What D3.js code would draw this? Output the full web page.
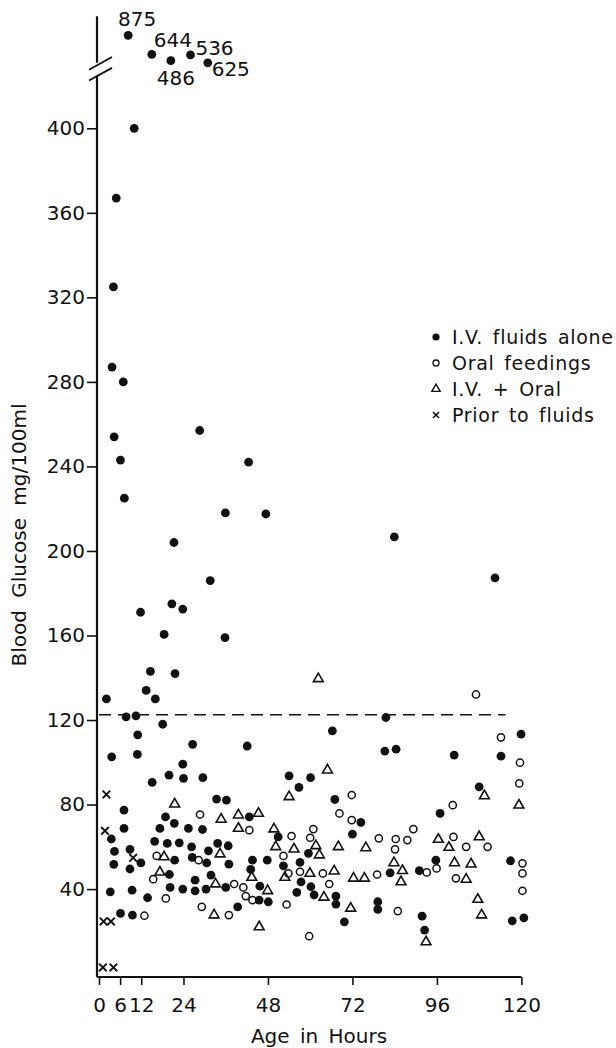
<!DOCTYPE html>
<html>
<head>
<meta charset="utf-8">
<script src="https://cdn.jsdelivr.net/npm/d3@7"></script>
<style>
  body { margin: 0; background: #fff; }
  svg text { font-family: "DejaVu Sans", sans-serif; fill: #111; }
</style>
</head>
<body>
<div id="chart"></div>
<script>
// each point is [age in hours, blood glucose mg/100ml]
var ivAlone = [
  [10, 400], [4.9, 367], [4.1, 325], [3.7, 287], [6.9, 280], [4.3, 254], [6.1, 243],
  [28.6, 257], [42.5, 242], [7.2, 225], [35.9, 218], [47.4, 217.5], [21.3, 204],
  [31.6, 186], [11.8, 171], [20.7, 175], [23.8, 172.5], [18.5, 160.5], [35.8, 159],
  [14.6, 143], [21.6, 142], [13.4, 134], [16, 130], [2.1, 130], [7.7, 121.5],
  [10.5, 122], [18.1, 118], [11, 113], [26.6, 108.5], [42.1, 107.7],
  [3.6, 102.6], [10.9, 103.7], [15.1, 90.5], [7.1, 77.4], [7.1, 68.7], [3.5, 63.7],
  [4.4, 57.8], [4.2, 51.7], [8.8, 58.8], [8.8, 49.5], [11.9, 52.4], [15.8, 62.6],
  [3.2, 38.7], [9.4, 39.5], [13.8, 35.9], [6.1, 28.5], [9.5, 27.7],
  [23.8, 99.1], [19.9, 93.9], [24, 92.4], [29.5, 92.7], [54, 93.6], [56.8, 88.1],
  [33.4, 82.6], [36.2, 82.1], [18.9, 74.2], [21.4, 71.1], [42.7, 74.2], [17.3, 68.7],
  [25.4, 68.7], [29.4, 68.2], [50.9, 64.7], [19.4, 61.6], [22.8, 61.9], [26.3, 60],
  [31.1, 58.1], [33.7, 61.6], [36.7, 60.5], [21.5, 53.7], [26.5, 55], [30.6, 52.4],
  [36.9, 51.8], [43.6, 53.7], [43.1, 49.3], [47.8, 53.7], [52.4, 51], [57.1, 52.6],
  [57.4, 43.4], [56.2, 38.4], [20, 46.9], [20.2, 40.8], [23.8, 40], [27.3, 44.2],
  [27.3, 39.2], [30.4, 40], [31.8, 46.6], [36, 40.8], [45.7, 41.4], [45.5, 34.8],
  [48.1, 34], [39.4, 31.6],
  [81.5, 121.2], [66.3, 114.9], [81.2, 105.3], [84.4, 106.2], [60.1, 92.7], [67, 82.4],
  [74.4, 71.6], [72, 66], [59.5, 56.9], [82.7, 47.7], [91, 48.7], [95.7, 53.7],
  [96.9, 75.8], [60.2, 41.1], [61.1, 37.2], [67.3, 36.7], [67.3, 32.9], [79.2, 34],
  [79.2, 30.4], [69.7, 24.5], [91.8, 27.2], [92.5, 20.6],
  [83.9, 206.7], [112.5, 187.3],
  [119.9, 113.3], [100.9, 103.4], [114.2, 102.9], [108, 88.4], [116.9, 53.4],
  [117.4, 25], [120.7, 26.4]
];

var oralFeedings = [
  [16.4, 55.7], [15.4, 44.7], [12.9, 27.4], [28.7, 75.3], [42.7, 67.9], [54.7, 65.1],
  [52.4, 55.7], [28.3, 53.7], [53.8, 47.4], [57.1, 48.2], [38.4, 42.4], [41, 40.8],
  [41.7, 36.7], [43.6, 34.8], [19, 35.6], [29.2, 31.6], [36.9, 27.7], [53.3, 32.7],
  [71.8, 84.5], [68.3, 75.8], [71.8, 72.6], [60.9, 68.4], [60, 64.3], [79.5, 64],
  [84.3, 63.7], [87.6, 63.2], [89.3, 68.4], [84.1, 58.8], [93.1, 47.9], [95.9, 49.8],
  [63.6, 47.4], [65.4, 42.4], [79, 46.9], [84.9, 29.6], [59.7, 17.7],
  [107.1, 132.1], [114.2, 111.8], [119.6, 99.8], [119.4, 90], [100.5, 79.7],
  [100.7, 64.7], [104.3, 60], [110.4, 60], [101.4, 45.1], [120.3, 52.2],
  [120.3, 47.4], [120.3, 39.2]
];

var ivPlusOral = [
  [17.3, 48], [18.5, 55.2], [21.5, 80.2], [34.7, 73], [39.6, 75], [45.3, 75.8],
  [39.6, 68.7], [49.7, 68.4], [34.4, 56.6], [50.2, 60], [55.4, 58.9], [43.4, 45.5],
  [52.8, 45.5], [33.1, 42.4], [47.9, 39.2], [32.7, 27.7], [45.5, 22.1], [54, 83.7],
  [62.3, 139.5], [64.9, 96.3], [61.6, 60.5], [62.6, 56.1], [68, 60], [75.8, 59.5],
  [83.8, 52.4], [86.2, 48.7], [85.8, 43.4], [96.4, 63.5], [59.9, 47.4], [66.8, 48.5],
  [63.9, 36.1], [72.3, 45.1], [75.4, 45.1], [71.5, 30.9], [92.9, 15],
  [109.5, 84.1], [119.3, 79.7], [99.4, 59.7], [108, 64.7], [101, 52.4], [105.7, 51.8],
  [104.3, 44.6], [107.6, 35.1], [108.7, 27.7]
];

var priorToFluids = [
  [2.1, 84.8], [1.7, 67.6], [9.7, 54.8], [1.3, 24.7], [3.4, 24.7], [1.1, 2.9], [4.1, 2.9]
];

// values off the scale, plotted above the axis break with their value written beside
var offHours = [8.3, 15, 20.4, 26, 30.9];
var offValues = [875, 644, 486, 536, 625];
var offPlottedAt = [444, 435, 432, 434.7, 431];

var xTicks = [0, 6, 12, 24, 48, 72, 96, 120];
var yTicks = [40, 80, 120, 160, 200, 240, 280, 320, 360, 400];
var upperNormal = 122.5;
var upperNormalEnd = 115.5;
var axisTop = 453, breakLow = 425, breakHigh = 431;

var legendLabels = ["I.V. fluids alone", "Oral feedings", "I.V. + Oral", "Prior to fluids"];

var width = 616, height = 1048;

var svg = d3.select("#chart").append("svg")
  .attr("width", width)
  .attr("height", height);

var x = d3.scaleLinear().domain([0, 120]).range([99, 521.4]);
var y = d3.scaleLinear().domain([-1.6, 400]).range([977, 128.3]);
var axisX = 97;

//y axis ticks and labels
var yAxis = svg.append("g")
  .attr("transform", "translate(" + axisX + ",0)")
  .call(d3.axisLeft(y).tickValues(yTicks).tickSize(10).tickPadding(2));
yAxis.select(".domain").remove();
yAxis.selectAll("line").attr("stroke", "#111").attr("stroke-width", 1.6);
yAxis.selectAll("text").attr("font-size", "20px").attr("fill", "#111");

//broken y axis line
svg.append("line")
  .attr("x1", axisX).attr("x2", axisX)
  .attr("y1", y(axisTop)).attr("y2", y(breakHigh))
  .attr("stroke", "#111").attr("stroke-width", 2.2);
svg.append("line")
  .attr("x1", axisX).attr("x2", axisX)
  .attr("y1", y(breakLow)).attr("y2", y(-1.6))
  .attr("stroke", "#111").attr("stroke-width", 2.2);
[breakHigh - 0.6, breakLow + 0.3].forEach(function(v) {
  svg.append("line")
    .attr("x1", axisX - 8).attr("y1", y(v - 2.7))
    .attr("x2", axisX + 15).attr("y2", y(v + 3.3))
    .attr("stroke", "#111").attr("stroke-width", 1.8);
});

//x axis
var xAxis = svg.append("g")
  .attr("transform", "translate(0," + y(-1.6) + ")")
  .call(d3.axisBottom(x).tickValues(xTicks).tickSize(8).tickSizeOuter(0).tickPadding(13));
xAxis.select(".domain").attr("stroke", "#111").attr("stroke-width", 2.2)
  .attr("d", "M" + axisX + ",0H" + x(120));
xAxis.selectAll("line").attr("stroke", "#111").attr("stroke-width", 1.6);
xAxis.selectAll("text").attr("font-size", "20px").attr("fill", "#111");

//axis titles
svg.append("text")
  .attr("transform", "translate(26,535) rotate(-90)")
  .style("text-anchor", "middle")
  .attr("font-size", "20px")
  .attr("word-spacing", "6px")
  .text("Blood Glucose mg/100ml");

svg.append("text")
  .attr("x", 319).attr("y", 1043)
  .style("text-anchor", "middle")
  .attr("font-size", "20px")
  .attr("word-spacing", "4px")
  .text("Age in Hours");

//dashed upper limit line
svg.append("line")
  .attr("x1", x(0)).attr("x2", x(upperNormalEnd))
  .attr("y1", y(upperNormal)).attr("y2", y(upperNormal))
  .attr("stroke", "#111").attr("stroke-width", 1.6)
  .attr("stroke-dasharray", "12,7");

//markers
var tri = d3.symbol().type(d3.symbolTriangle).size(42);
function cross(s) {
  return "M" + (-s) + "," + (-s) + "L" + s + "," + s + "M" + s + "," + (-s) + "L" + (-s) + "," + s;
}

svg.append("g").selectAll("circle")
  .data(oralFeedings).enter().append("circle")
    .attr("cx", function(d) { return x(d[0]); })
    .attr("cy", function(d) { return y(d[1]); })
    .attr("r", 3.6)
    .attr("fill", "#fff").attr("stroke", "#111").attr("stroke-width", 1.5);

svg.append("g").selectAll("path")
  .data(ivPlusOral).enter().append("path")
    .attr("d", tri)
    .attr("transform", function(d) { return "translate(" + x(d[0]) + "," + y(d[1]) + ")"; })
    .attr("fill", "none").attr("stroke", "#111").attr("stroke-width", 1.6);

svg.append("g").selectAll("path")
  .data(priorToFluids).enter().append("path")
    .attr("d", cross(3.8))
    .attr("transform", function(d) { return "translate(" + x(d[0]) + "," + y(d[1]) + ")"; })
    .attr("stroke", "#111").attr("stroke-width", 1.9);

svg.append("g").selectAll("circle")
  .data(ivAlone).enter().append("circle")
    .attr("cx", function(d) { return x(d[0]); })
    .attr("cy", function(d) { return y(d[1]); })
    .attr("r", 4.4)
    .attr("fill", "#111");

//off scale points above the break
var offPoints = offHours.map(function(h, i) {
  return { hour: h, value: offValues[i], at: offPlottedAt[i] };
});
var labelShift = [[9, -9], [21, -7], [5, 24], [24, 0], [23, 13]];

svg.append("g").selectAll("circle")
  .data(offPoints).enter().append("circle")
    .attr("cx", function(d) { return x(d.hour); })
    .attr("cy", function(d) { return y(d.at); })
    .attr("r", 4.4)
    .attr("fill", "#111");

svg.append("g").selectAll("text")
  .data(offPoints).enter().append("text")
    .attr("x", function(d, i) { return x(d.hour) + labelShift[i][0]; })
    .attr("y", function(d, i) { return y(d.at) + labelShift[i][1]; })
    .style("text-anchor", "middle")
    .attr("font-size", "20px")
    .text(function(d) { return d.value; });

//legend
var legend = svg.append("g").attr("transform", "translate(436,337)");
legendLabels.forEach(function(label, i) {
  var row = legend.append("g").attr("transform", "translate(0," + (i * 26) + ")");
  if (i === 0) {
    row.append("circle").attr("r", 3.6).attr("fill", "#111");
  } else if (i === 1) {
    row.append("circle").attr("r", 3).attr("fill", "#fff").attr("stroke", "#111").attr("stroke-width", 1.3);
  } else if (i === 2) {
    row.append("path").attr("d", d3.symbol().type(d3.symbolTriangle).size(30)).attr("fill", "none")
      .attr("stroke", "#111").attr("stroke-width", 1.4);
  } else {
    row.append("path").attr("d", cross(3)).attr("stroke", "#111").attr("stroke-width", 1.6);
  }
  row.append("text")
    .attr("x", 16).attr("dy", "0.36em")
    .attr("font-size", "19px")
    .attr("letter-spacing", "0.7px")
    .attr("word-spacing", "3px")
    .text(label);
});
</script>
</body>
</html>
